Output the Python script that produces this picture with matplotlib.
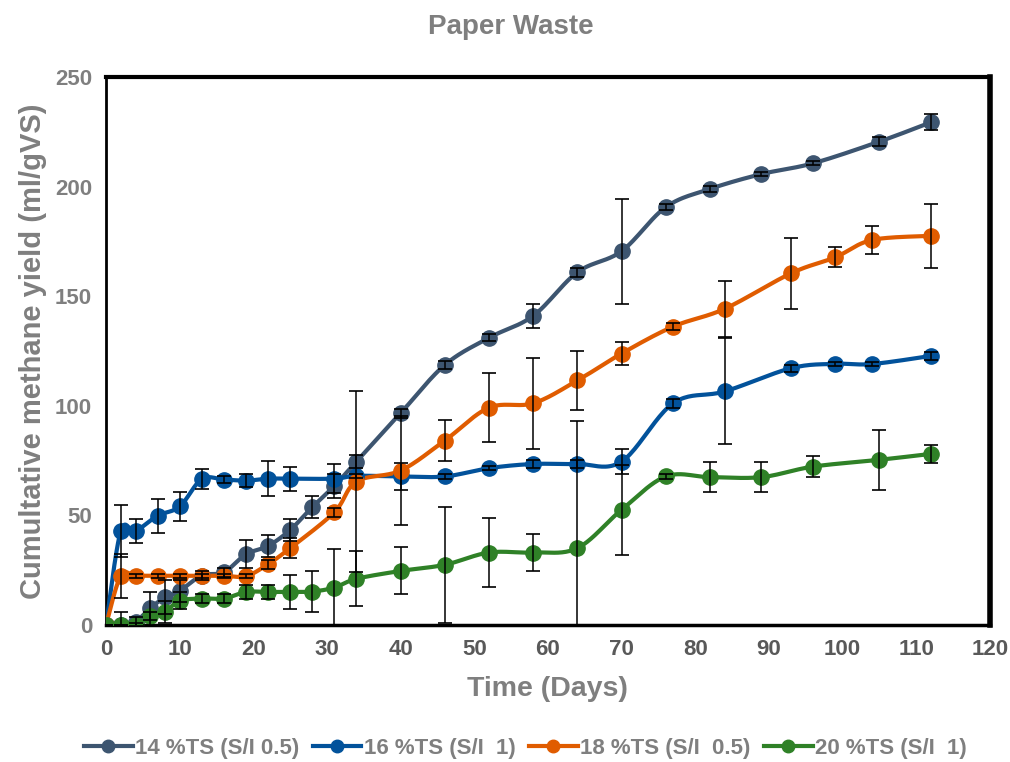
import numpy as np
import matplotlib
matplotlib.use("Agg")
import matplotlib.pyplot as plt

# ---------------- data ----------------
days_a = [0, 2, 4, 6, 8, 10, 13, 16, 19, 22, 25, 28, 31, 34, 40, 46, 52, 58, 64, 70, 76, 82, 89, 96, 105, 112]
days_b = [0, 2, 4, 7, 10, 13, 16, 19, 22, 25, 31, 34, 40, 46, 52, 58, 64, 70, 77, 84, 93, 99, 104, 112]

ts14 = [0, 0, 1.5, 7.6, 12.6, 15.5, 22.5, 24, 32.2, 36, 43.3, 53.7, 63.4, 74.5, 96.6, 118.6, 131, 141,
        160.9, 170.5, 190.6, 198.9, 205.7, 210.6, 220.5, 229.3]
ts14_err = [0, 6, 2, 7.6, 7.8, 5, 2, 2, 6.3, 5, 5, 5, 5.5, 3, 2, 2, 1.5, 5.6, 2, 24, 1.5, 1.5, 1, 1, 2, 3.6]

ts16 = [0, 42.8, 42.8, 49.8, 54, 66.5, 66.3, 65.8, 66.7, 66.7, 66.7, 68, 67.7, 67.7, 71.5, 73.4, 73.4,
        74.5, 101.1, 106.5, 117.1, 119.1, 119, 122.7]
ts16_err = [0, 12, 5.5, 7.7, 6.6, 4.4, 1.5, 3, 8, 5.5, 6.5, 1, 6.1, 1, 1, 2, 2, 5.7, 2, 24.2, 1.5, 1, 1, 2]

ts18 = [0, 22.4, 22.4, 22.4, 22.4, 22.4, 22.4, 22.2, 27.7, 35, 51.4, 65.4, 70.4, 84.1, 99.1, 101.1,
        111.5, 123.8, 136.1, 144.2, 160.4, 167.7, 175.6, 177.5]
ts18_err = [0, 10, 1, 1, 1, 1, 1, 1, 2, 4.6, 2, 41.5, 24.8, 9.4, 15.6, 20.7, 13.5, 5.3, 1.5, 12.7, 16.1,
            4.5, 6.2, 14.6]

ts20 = [0, 0, 0, 4, 6, 11, 12, 12, 15, 15, 15, 15.2, 17, 21, 24.6, 27.4, 33, 33, 35, 52.5, 67.7, 67.4,
        67.4, 72.2, 75.3, 78]
ts20_err = [0, 0, 1, 2, 5, 4, 2, 2, 3, 3, 7.8, 9.4, 17.5, 12.6, 10.7, 26.4, 15.6, 8.4, 58, 20.6, 1, 7, 7,
            4.7, 13.6, 4]

labels = ["14 %TS (S/I 0.5)", "16 %TS (S/I  1)", "18 %TS (S/I  0.5)", "20 %TS (S/I  1)"]
colors = ["#3D5570", "#02529B", "#E05C00", "#2F8127"]

series = [(days_a, ts14, ts14_err), (days_b, ts16, ts16_err), (days_b, ts18, ts18_err), (days_a, ts20, ts20_err)]


def smooth(x, y, n=24):
    """Excel-like smoothed line (Catmull-Rom Bezier)."""
    x = np.asarray(x, float)
    y = np.asarray(y, float)
    pts = np.column_stack([x, y])
    out = [pts[0]]
    m = len(pts)
    t = np.linspace(0, 1, n)[1:, None]
    for i in range(m - 1):
        p0 = pts[i - 1] if i > 0 else pts[i]
        p1 = pts[i]
        p2 = pts[i + 1]
        p3 = pts[i + 2] if i + 2 < m else pts[i + 1]
        c1 = p1 + (p2 - p0) / 6.0
        c2 = p2 - (p3 - p1) / 6.0
        seg = ((1 - t) ** 3) * p1 + 3 * ((1 - t) ** 2) * t * c1 + 3 * (1 - t) * t ** 2 * c2 + t ** 3 * p2
        out.extend(seg)
    out = np.array(out)
    return out[:, 0], out[:, 1]


fam = ["Liberation Sans", "DejaVu Sans"]

fig = plt.figure(figsize=(10.1, 7.62), dpi=100)
ax = fig.add_axes([0.105, 0.180, 0.875, 0.719])

handles = []
for (d, v, e), c, lab in zip(series, colors, labels):
    sx, sy = smooth(d, v)
    ax.plot(sx, sy, color=c, lw=3.0, zorder=3, solid_capstyle="round")
    ax.plot(d, v, 'o', color=c, markersize=11, zorder=4)
    ax.errorbar(d, v, yerr=e, fmt='none', ecolor='black', elinewidth=1.1, capsize=5, capthick=1.2, zorder=5)
    handles.append(plt.Line2D([], [], color=c, lw=3.0, marker='o', markersize=9))

ax.set_xlim(0, 120)
ax.set_ylim(0, 250)
ax.set_xticks(np.arange(0, 121, 10))
ax.set_yticks(np.arange(0, 251, 50))
ax.tick_params(length=0, pad=10)
for lab in ax.get_xticklabels():
    lab.set_fontfamily(fam)
    lab.set_fontweight("bold")
    lab.set_fontsize(16)
    lab.set_color("#595959")
for lab in ax.get_yticklabels():
    lab.set_fontfamily(fam)
    lab.set_fontweight("bold")
    lab.set_fontsize(16)
    lab.set_color("#7F7F7F")

for s in ["top", "bottom", "left", "right"]:
    ax.spines[s].set_color("black")
ax.spines["top"].set_linewidth(3)
ax.spines["right"].set_linewidth(4)
ax.spines["bottom"].set_linewidth(2.5)
ax.spines["left"].set_linewidth(2)

ax.set_xlabel("Time (Days)", fontfamily=fam, fontweight="bold", fontsize=20.5, color="#7F7F7F", labelpad=12)
ax.set_ylabel("Cumultative methane yield (ml/gVS)", fontfamily=fam, fontweight="bold", fontsize=21,
              color="#7F7F7F", labelpad=6)
fig.text(0.506, 0.965, "Paper Waste", ha="center", va="center", fontfamily=fam, fontweight="bold",
         fontsize=20, color="#7F7F7F")

leg = fig.legend(handles, labels, loc="center", bbox_to_anchor=(0.52, 0.018), ncol=4, frameon=False,
                 handlelength=2.2, handletextpad=0.1, columnspacing=0.6,
                 prop={"family": fam, "weight": "bold", "size": 16})
for t in leg.get_texts():
    t.set_color("#7F7F7F")

fig.savefig("out.png", dpi=100)
